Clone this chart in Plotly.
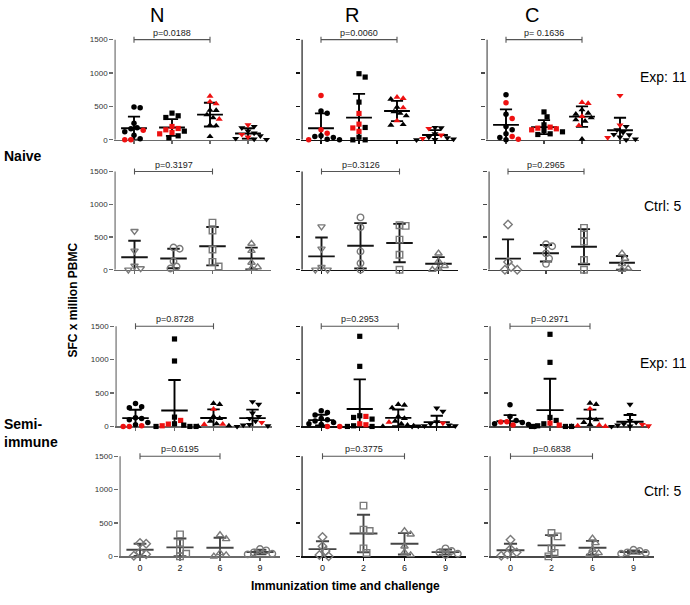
import numpy as np
import plotly.graph_objects as go

categories = ["0", "2", "6", "9"]
columns = ["N", "R", "C"]
row_labels = ["Exp: 11", "Ctrl: 5", "Exp: 11", "Ctrl: 5"]
y_ticks = [0, 500, 1000, 1500]

# ---- Naive, experimental (black / red points) ----
naive_exp_N = [
    [490, 480, 250, 180, 165, 145, 120, 70, 15, 0, 0],
    [400, 360, 335, 200, 170, 150, 130, 110, 90, 60, 30],
    [655, 570, 540, 445, 440, 375, 330, 310, 220, 210, 50],
    [225, 200, 180, 130, 100, 80, 60, 40, 20, 10, 5],
]
naive_exp_N_red = [[5, 9, 10], [3, 4, 5, 7, 8], [0, 1, 2, 7], [0, 5, 7]]
naive_exp_R = [
    [665, 430, 400, 150, 100, 60, 50, 35, 10, 0, 0],
    [990, 940, 565, 395, 235, 185, 178, 127, 40, 0, 0],
    [640, 620, 610, 490, 480, 420, 400, 360, 285, 230, 220],
    [185, 180, 170, 90, 70, 40, 30, 20, 10, 5, 0],
]
naive_exp_R_red = [[0, 3, 4, 9], [3, 4, 6, 7], [0, 1, 4, 8], [2, 4, 7]]
naive_exp_C = [
    [675, 556, 385, 320, 200, 150, 90, 50, 35, 10, 0],
    [418, 345, 225, 190, 175, 165, 150, 140, 120, 90, 80],
    [560, 545, 450, 400, 385, 350, 330, 300, 280, 215, 10],
    [664, 220, 200, 150, 110, 80, 74, 40, 34, 10, 0],
]
naive_exp_C_red = [[1, 3, 7, 9], [3, 4, 5, 6], [0, 1, 5, 9], [0, 1, 8]]

# ---- Naive, controls ----
naive_ctrl_N = [[590, 290, 60, 20, 0], [340, 320, 130, 50, 20], [720, 600, 310, 120, 50], [400, 290, 110, 40, 20]]
naive_ctrl_R = [[660, 320, 40, 0, 0], [800, 650, 280, 100, 0], [680, 670, 460, 230, 0], [250, 130, 60, 20, 0]]
naive_ctrl_C = [[690, 120, 40, 0, 0], [390, 360, 250, 170, 90], [640, 540, 430, 150, 0], [250, 170, 90, 20, 0]]

# ---- Semi-immune, experimental ----
semi_exp_N = [
    [345, 295, 280, 130, 120, 100, 60, 25, 10, 0, 0],
    [1310, 980, 140, 90, 40, 35, 20, 10, 0, 0, 0],
    [345, 330, 260, 150, 120, 80, 40, 35, 30, 10, 0],
    [370, 330, 200, 150, 120, 80, 60, 30, 20, 10, 0],
]
semi_exp_N_red = [[8, 9, 10], [3, 5, 7], [2, 7, 8], [6]]
semi_exp_R = [
    [235, 210, 170, 120, 100, 80, 60, 40, 30, 0, 0],
    [1350, 900, 160, 150, 135, 110, 40, 25, 10, 0, 0],
    [330, 320, 280, 150, 120, 80, 65, 40, 20, 10, 0],
    [275, 225, 70, 50, 40, 20, 10, 10, 5, 0, 0],
]
semi_exp_R_red = [[9, 10], [3, 6, 7], [6], [3]]
semi_exp_C = [
    [325, 150, 90, 70, 65, 60, 40, 30, 20, 10, 0],
    [1380, 960, 135, 90, 50, 40, 20, 10, 0, 0, 0],
    [350, 330, 265, 120, 100, 60, 30, 20, 10, 0, 0],
    [330, 180, 90, 60, 40, 30, 20, 10, 5, 0, 0],
]
semi_exp_C_red = [[3, 4, 8], [4, 6], [2, 7, 8, 9], [5, 7]]

# ---- Semi-immune, controls ----
semi_ctrl_N = [[200, 190, 60, 30, 10], [330, 200, 100, 40, 0], [320, 260, 50, 20, 0], [110, 90, 60, 40, 30]]
semi_ctrl_R = [[290, 150, 80, 20, 0], [760, 400, 380, 120, 50], [380, 330, 150, 60, 20], [120, 80, 60, 40, 20]]
semi_ctrl_C = [[250, 110, 60, 30, 10], [350, 300, 120, 50, 0], [270, 200, 100, 50, 20], [100, 80, 60, 50, 40]]

p_labels = [
    ["p=0.0188", "p=0.0060", "p= 0.1636"],
    ["p=0.3197", "p=0.3126", "p=0.2965"],
    ["p=0.8728", "p=0.2953", "p=0.2971"],
    ["p=0.6195", "p=0.3775", "p=0.6838"],
]

panels = [
    [(naive_exp_N, naive_exp_N_red), (naive_exp_R, naive_exp_R_red), (naive_exp_C, naive_exp_C_red)],
    [(naive_ctrl_N, None), (naive_ctrl_R, None), (naive_ctrl_C, None)],
    [(semi_exp_N, semi_exp_N_red), (semi_exp_R, semi_exp_R_red), (semi_exp_C, semi_exp_C_red)],
    [(semi_ctrl_N, None), (semi_ctrl_R, None), (semi_ctrl_C, None)],
]

exp_symbols = ["circle", "square", "triangle-up", "triangle-down"]
exp_sizes = [5.5, 5.2, 6.2, 6.2]
ctrl_symbols = [
    ["triangle-down-open", "circle-open", "square-open", "triangle-up-open"],
    ["triangle-down-open", "circle-open", "square-open", "triangle-up-open"],
    ["diamond-open", "circle-open", "square-open", "triangle-up-open"],
]
ctrl4_symbols = ["diamond-open", "square-open", "triangle-up-open", "circle-open"]

# ---- layout geometry (pixels) ----
W, H = 690, 605
YMAX = 1580
rows_geom = [
    dict(y0=141, y15=40, ax=[115, 302, 487], sp=[38, 38, 38]),
    dict(y0=272, y15=173, ax=[115, 302, 489], sp=[39, 39, 38]),
    dict(y0=430, y15=329, ax=[116, 302, 490], sp=[39, 38.5, 40]),
    dict(y0=561, y15=460, ax=[120, 302, 490], sp=[40, 41, 41]),
]
axis_colors = ["#6a6a6a", "#111111", "#4a4a4a"]
FONT = "Arial, 'Liberation Sans', sans-serif"
RED = "#ee1111"


def swarm(values, sp, ppu, mind):
    vals = np.asarray(values, dtype=float)
    order = np.argsort(-vals, kind="stable")
    placed = []
    offs = np.zeros(len(vals))
    step = mind * 0.55
    cands = [0.0]
    for j in range(1, 30):
        cands += [j * step, -j * step]
    for i in order:
        y = vals[i] * ppu
        chosen = cands[-1]
        for c in cands:
            if all((c - px) ** 2 + (y - py) ** 2 >= mind ** 2 for px, py in placed):
                chosen = c
                break
        placed.append((chosen, y))
        offs[i] = chosen / sp
    return offs


fig = go.Figure()
layout_axes = {}
annotations = []

for r in range(4):
    g = rows_geom[r]
    dom_h = (g["y0"] - g["y15"]) * YMAX / 1500.0
    ppu = dom_h / YMAX
    y_bot = 1 - g["y0"] / H
    y_top = 1 - (g["y0"] - dom_h) / H
    for c in range(3):
        n = r * 3 + c + 1
        xa = "x" if n == 1 else f"x{n}"
        ya = "y" if n == 1 else f"y{n}"
        sp = g["sp"][c]
        ax_px = g["ax"][c]
        x_left = (ax_px - 0.02 * sp) / W
        x_right = (ax_px + 4.0 * sp) / W
        col = axis_colors[c]
        data, red = panels[r][c]
        is_exp = red is not None
        err_col = "#000000" if is_exp else ("#161616" if r == 1 else "#454545")

        layout_axes["xaxis" if n == 1 else f"xaxis{n}"] = dict(
            domain=[x_left, x_right], range=[-0.52, 3.5], anchor=ya,
            showline=True, linecolor=col, linewidth=1.3, ticks="outside", ticklen=3,
            tickcolor=col, tickwidth=1.2, tickvals=[0, 1, 2, 3], ticktext=categories,
            showticklabels=(r == 3), tickfont=dict(size=9, color="#222", family=FONT),
            showgrid=False, zeroline=False, layer="below traces", fixedrange=True,
        )
        layout_axes["yaxis" if n == 1 else f"yaxis{n}"] = dict(
            domain=[y_bot, y_top], range=[0, YMAX], anchor=xa,
            showline=False, ticks="outside", ticklen=4, tickcolor=col, tickwidth=1.2,
            tickvals=y_ticks, showticklabels=(c == 0),
            tickfont=dict(size=8, color="#333", family=FONT),
            showgrid=False, zeroline=False, fixedrange=True,
        )

        # y axis line from 0 to 1500
        fig.add_trace(go.Scatter(
            x=[-0.5, -0.5], y=[0, y_ticks[-1]], mode="lines", xaxis=xa, yaxis=ya,
            line=dict(color=col, width=1.3), hoverinfo="skip", showlegend=False))

        # error bars: mean +/- SD
        ex, ey = [], []
        for gi, vals in enumerate(data):
            v = np.asarray(vals, dtype=float)
            m = v.mean()
            sd = v.std(ddof=1)
            lo = max(m - sd, 0.0)
            hi = m + sd
            ex += [gi - 0.34, gi + 0.34, None, gi, gi, None, gi - 0.16, gi + 0.16, None]
            ey += [m, m, None, lo, hi, None, hi, hi, None]
            if m - sd > 0:
                ex += [gi - 0.16, gi + 0.16, None]
                ey += [lo, lo, None]
        fig.add_trace(go.Scatter(
            x=ex, y=ey, mode="lines", xaxis=xa, yaxis=ya,
            line=dict(color=err_col, width=1.9), hoverinfo="skip", showlegend=False))

        # points
        for gi, vals in enumerate(data):
            offs = swarm(vals, sp, ppu, 5.6)
            xs = [gi + o for o in offs]
            if is_exp:
                colors = [RED if i in red[gi] else "#000000" for i in range(len(vals))]
                fig.add_trace(go.Scatter(
                    x=xs, y=vals, mode="markers", xaxis=xa, yaxis=ya, cliponaxis=False,
                    marker=dict(symbol=exp_symbols[gi], size=exp_sizes[gi], color=colors,
                                line=dict(width=0)),
                    hoverinfo="skip", showlegend=False))
            else:
                sym = ctrl_symbols[c][gi] if r == 1 else ctrl4_symbols[gi]
                fig.add_trace(go.Scatter(
                    x=xs, y=vals, mode="markers", xaxis=xa, yaxis=ya, cliponaxis=False,
                    marker=dict(symbol=sym, size=6.5, color="#7a7a7a",
                                line=dict(width=1.4, color="#7a7a7a")),
                    hoverinfo="skip", showlegend=False))

        # significance bracket (0 vs 6)
        tk = 3.0 / ppu
        top = y_ticks[-1]
        fig.add_trace(go.Scatter(
            x=[0, 2, None, 0, 0, None, 2, 2],
            y=[top, top, None, top - tk, top + tk, None, top - tk, top + tk],
            mode="lines", xaxis=xa, yaxis=ya, line=dict(color="#555", width=1.1),
            hoverinfo="skip", showlegend=False))
        annotations.append(dict(
            x=1, y=top, xref=xa, yref=ya, text=p_labels[r][c], showarrow=False,
            xanchor="center", yanchor="bottom", yshift=0,
            font=dict(size=9, color="#222", family=FONT)))


def paper(px, py):
    return px / W, 1 - py / H


def label(px, py, text, size, xanchor="center", angle=0, align="center"):
    x, y = paper(px, py)
    annotations.append(dict(x=x, y=y, xref="paper", yref="paper", text=text, showarrow=False,
                            xanchor=xanchor, yanchor="middle", textangle=angle, align=align,
                            font=dict(size=size, color="#000", family=FONT)))


for lab, px in zip(columns, [157, 352, 532]):
    label(px, 15, lab, 20)
for lab, py in zip(row_labels, [78, 208, 366, 495]):
    label(663, py, lab, 14)
label(2, 157, "<b>Naive</b>", 14, xanchor="left")
label(2, 437, "<b>Semi-<br>immune</b>", 14, xanchor="left", align="left")
label(73, 303, "<b>SFC x million PBMC</b>", 12, angle=-90)
label(345, 591, "<b>Immunization time and challenge</b>", 12)

fig.update_layout(
    width=W, height=H, margin=dict(l=0, r=0, t=0, b=0),
    paper_bgcolor="white", plot_bgcolor="white", showlegend=False,
    font=dict(family=FONT), annotations=annotations, **layout_axes,
)

fig.write_html(
    "out.html",
    config={"displayModeBar": False, "staticPlot": True},
    post_script="document.body.style.margin='0';document.body.style.overflow='hidden';",
)
